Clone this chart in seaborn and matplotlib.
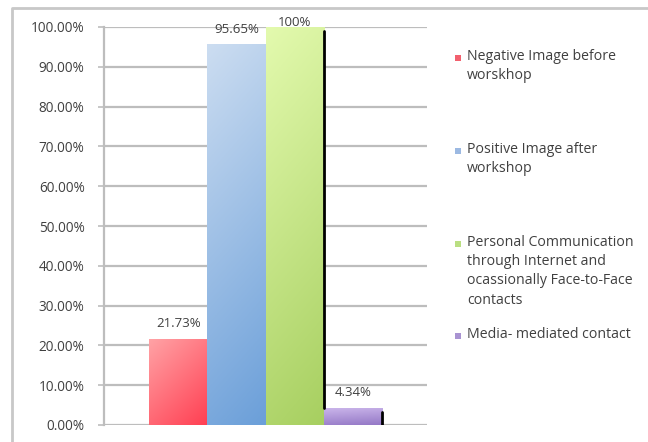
import numpy as np
import pandas as pd
import matplotlib
matplotlib.use("Agg")
import matplotlib.pyplot as plt
from matplotlib.colors import LinearSegmentedColormap
from matplotlib.lines import Line2D
import seaborn as sns

# ---- data ----
categories = [
    "Negative Image before\nworskhop",
    "Positive Image after\nworkshop",
    "Personal Communication\nthrough Internet and\nocassionally Face-to-Face\ncontacts",
    "Media- mediated contact",
]
values = [21.73, 95.65, 100.0, 4.34]
value_labels = ["21.73%", "95.65%", "100%", "4.34%"]
y_ticks = [0, 10, 20, 30, 40, 50, 60, 70, 80, 90, 100]
y_tick_labels = ["0.00%", "10.00%", "20.00%", "30.00%", "40.00%", "50.00%",
                 "60.00%", "70.00%", "80.00%", "90.00%", "100.00%"]

# ---- styling ----
legend_colors = ["#F2606E", "#9CB9E2", "#BADF82", "#A993D2"]
gradients = [
    ("#FFA3A6", "#FF3F52"),
    ("#CCDDF1", "#6B9FD9"),
    ("#E3FAAE", "#A7CF60"),
    ("#CDB8EC", "#9478C6"),
]
text_color = "#404040"
grid_color = "#BDBDBD"

sns.set_theme(style="white")
plt.rcParams["font.family"] = ["Open Sans", "DejaVu Sans"]

W, H = 648, 442
fig = plt.figure(figsize=(W / 100, H / 100), dpi=100)
ax = fig.add_axes([104 / W, (H - 425) / H, (427 - 104) / W, (425 - 27) / H])

df = pd.DataFrame({"group": [""] * len(values), "series": categories, "value": values})
sns.barplot(data=df, x="group", y="value", hue="series", hue_order=categories,
            palette=legend_colors, width=0.72, dodge=True, legend=False,
            saturation=1, ax=ax, zorder=3, linewidth=0)

# gradient fills clipped to each bar
bars = [p for p in ax.patches]
for i, patch in enumerate(bars):
    x0, y0 = patch.get_x(), patch.get_y()
    w, h = patch.get_width(), patch.get_height()
    n = 128
    r = np.linspace(0, 1, n)[:, None]
    c = np.linspace(0, 1, n)[None, :]
    if i == 0:
        t = 0.6 * r + 0.4 * c
    else:
        t = 0.85 * r + 0.15 * c
    cmap = LinearSegmentedColormap.from_list(f"g{i}", list(gradients[i]))
    im = ax.imshow(t, cmap=cmap, vmin=0, vmax=1, extent=[x0, x0 + w, y0, y0 + h],
                   origin="upper", aspect="auto", zorder=4, interpolation="bilinear")
    im.set_clip_path(patch)

# dark side edges on the last two bars
green, purple = bars[2], bars[3]
gx = green.get_x() + green.get_width()
ax.add_line(Line2D([gx, gx], [purple.get_height(), green.get_height() * 0.99],
                   color="black", lw=2, zorder=5))
px = purple.get_x() + purple.get_width()
ax.add_line(Line2D([px, px], [0, purple.get_height() * 0.78],
                   color="black", lw=2, zorder=5))

# value labels (a full-height bar keeps its label inside the plot area)
for patch, lab in zip(bars, value_labels):
    cx = patch.get_x() + patch.get_width() / 2
    top = patch.get_height()
    if top < 97:
        ax.annotate(lab, (cx, top), xytext=(0, 6), textcoords="offset points",
                    ha="center", va="bottom", fontsize=9.5, color=text_color, zorder=6)
    else:
        ax.annotate(lab, (cx, top), xytext=(0, 3), textcoords="offset points",
                    ha="center", va="center", fontsize=9.5, color=text_color, zorder=6)

ax.set_xlim(-0.5, 0.5)
ax.set_ylim(0, 100)
ax.set_yticks(y_ticks)
ax.set_yticklabels(y_tick_labels, fontsize=9.8, color=text_color)
ax.set_xticks([])
ax.set_xlabel("")
ax.set_ylabel("")
ax.yaxis.grid(True, color=grid_color, lw=1.6, zorder=0)
ax.set_axisbelow(True)
ax.tick_params(axis="y", which="both", left=True, length=4, width=1.2,
               color=grid_color, pad=10)
for side in ["top", "right", "bottom"]:
    ax.spines[side].set_visible(False)
ax.spines["left"].set_color(grid_color)
ax.spines["left"].set_linewidth(1.6)
ax.set_facecolor("white")

# legend, entries laid out down the right side
legend_tops = [57, 150, 243, 335]
for col, lab, ytop in zip(legend_colors, categories, legend_tops):
    fig.patches.append(plt.Rectangle((455 / W, 1 - (ytop + 4) / H), 6 / W, 6 / H,
                                     transform=fig.transFigure, color=col, lw=0))
    fig.text(467 / W, 1 - (ytop - 8) / H, lab, ha="left", va="top",
             fontsize=10.2, color=text_color, linespacing=1.38)

# chart frame (left and top edges)
fig.add_artist(Line2D([12 / W, 12 / W, 1.0], [0.0, 1 - 8 / H, 1 - 8 / H],
                      transform=fig.transFigure, color="#C8C8C8", lw=2))

fig.savefig("out.png", dpi=100, facecolor="white")
